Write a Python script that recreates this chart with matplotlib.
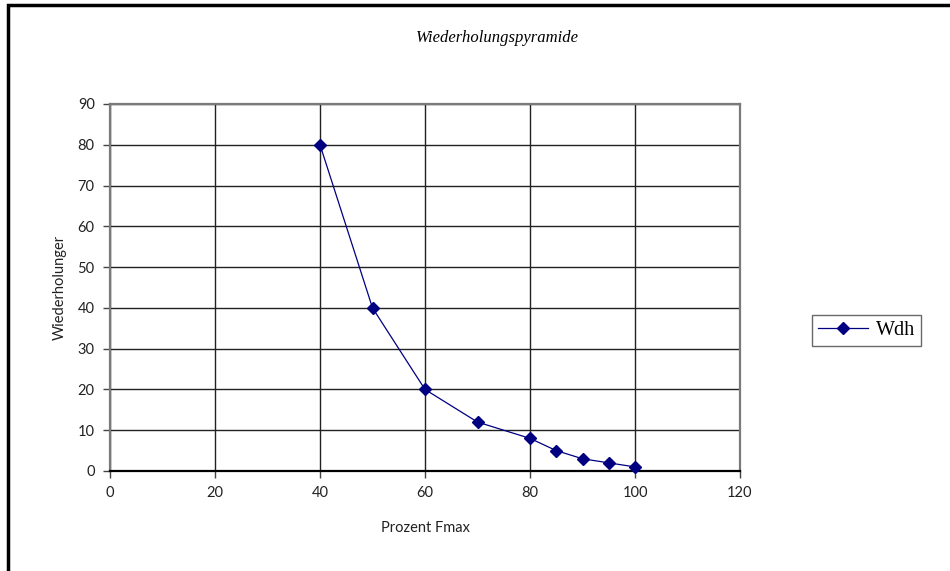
import matplotlib
matplotlib.use("Agg")
import matplotlib.pyplot as plt
from matplotlib.patches import Rectangle

x_vals = [40, 50, 60, 70, 80, 85, 90, 95, 100]
y_vals = [80, 40, 20, 12, 8, 5, 3, 2, 1]
x_ticks = [0, 20, 40, 60, 80, 100, 120]
y_ticks = [0, 10, 20, 30, 40, 50, 60, 70, 80, 90]

W, H = 950, 571
fig = plt.figure(figsize=(W / 100, H / 100), dpi=100)
fig.patch.set_facecolor("white")

# outer frame (only top/left visible in the reference)
fig.patches.append(Rectangle((8 / W, -0.05), 1.1, (571 - 5) / H + 0.05,
                             transform=fig.transFigure, fill=False,
                             edgecolor="black", linewidth=2.5))

ax = fig.add_axes([110 / W, 1 - 471 / H, (740 - 110) / W, (471 - 104) / H])
ax.set_xlim(0, 120)
ax.set_ylim(0, 90)
ax.set_xticks(x_ticks)
ax.set_yticks(y_ticks)
ax.grid(True, color="#222222", linewidth=1.0)
ax.set_axisbelow(True)
for s in ["top", "right", "left"]:
    ax.spines[s].set_color("#7a7a7a")
    ax.spines[s].set_linewidth(1.6)
ax.spines["bottom"].set_color("black")
ax.spines["bottom"].set_linewidth(1.6)
ax.tick_params(direction="out", length=5, width=1, color="#444444",
               labelsize=10.5, labelcolor="#222222", pad=6)
tf = "Lato"
for lab in ax.get_xticklabels() + ax.get_yticklabels():
    lab.set_fontfamily(tf)

line, = ax.plot(x_vals, y_vals, color="#000080", linewidth=0.9, marker="D",
                markersize=6.5, markerfacecolor="#000080", markeredgecolor="#000080",
                label="Wdh", clip_on=False, zorder=3)

ax.set_xlabel("Prozent Fmax", fontsize=10.5, fontfamily=tf, color="#222222", labelpad=15)
ax.set_ylabel("Wiederholunger", fontsize=10.5, fontfamily=tf, color="#222222", labelpad=8)

fig.text(497 / W, 1 - 38 / H, "Wiederholungspyramide", ha="center", va="center",
         fontsize=12, fontstyle="italic", fontfamily="Liberation Serif")

leg = fig.legend(handles=[line], labels=["Wdh"], loc="center",
                 bbox_to_anchor=(866.5 / W, 1 - 330.5 / H),
                 prop={"family": "Liberation Serif", "size": 14.5},
                 frameon=True, fancybox=False, handlelength=2.5,
                 borderpad=0.3, handletextpad=0.4, borderaxespad=0)
leg.get_frame().set_edgecolor("#444444")
leg.get_frame().set_linewidth(1.0)

fig.savefig("out.png", dpi=100, facecolor="white")
